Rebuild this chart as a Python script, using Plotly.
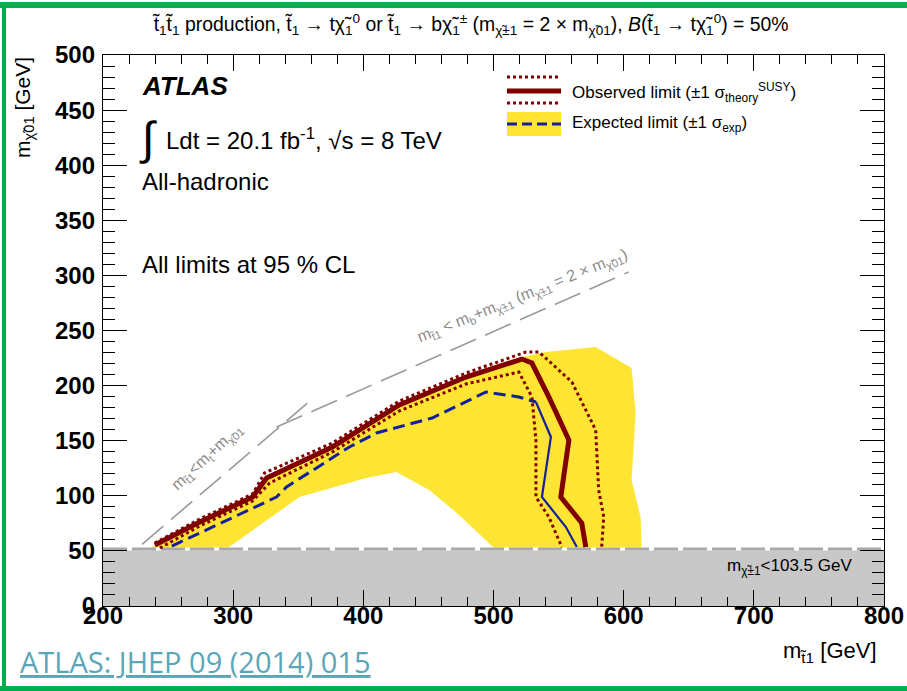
import plotly.graph_objects as go

# ---------------- data ----------------
obs_x = [239.8, 274.3, 314.9, 325.7, 376.2, 427.6, 478.9, 521.8, 529.5, 542.5, 557.9, 551.7, 567.8, 570.9]
obs_y = [55.4, 76.2, 98.9, 116.2, 144.3, 182.4, 207.8, 224.1, 220.5, 189.7, 150.6, 98.9, 75.3, 53.5]

obs_up_x = [239.8, 274.3, 314.9, 324.1, 376.2, 427.6, 478.9, 524.9, 534.9, 560.2, 578.5, 580.8, 584.7, 583.1]
obs_up_y = [57.2, 78.9, 101.6, 120.7, 147.9, 186.0, 211.4, 230.5, 230.5, 203.3, 159.7, 105.3, 80.8, 53.5]

obs_dn_x = [243.7, 274.3, 314.9, 328.0, 376.2, 427.6, 478.9, 519.5, 529.5, 532.6, 532.6, 542.5, 552.5]
obs_dn_y = [52.6, 72.6, 95.3, 111.6, 139.7, 177.0, 201.5, 212.3, 189.7, 150.6, 98.9, 80.8, 53.5]

exp_dash_x = [252.9, 274.3, 325.7, 333.3, 341.0, 389.3, 410.0, 452.9, 494.3, 519.5, 532.6]
exp_dash_y = [54.4, 66.2, 94.0, 98.9, 108.0, 144.3, 157.0, 170.6, 194.2, 189.7, 185.1]
exp_solid_x = [532.6, 544.1, 537.2, 555.6, 564.0]
exp_solid_y = [185.1, 153.4, 98.9, 71.7, 53.5]

band_x = [236.0, 274.3, 314.9, 325.7, 376.2, 427.6, 478.9, 521.8, 540.2, 578.5, 606.1, 609.2,
          606.1, 613.0, 613.8, 500.4, 473.6, 450.6, 425.3, 402.3, 351.0, 320.3, 295.8]
band_y = [52.6, 78.0, 100.7, 118.0, 146.1, 184.2, 209.6, 226.0, 230.5, 235.0, 216.0, 175.1,
          114.3, 80.8, 52.6, 52.6, 82.6, 105.3, 121.6, 116.2, 98.9, 73.5, 52.6]

# kinematic boundaries
kin_top_x = [230.0, 357.0]      # m_stop < m_t + m_LSP
kin_top_y = [56.0, 184.0]
kin_b_x = [333.3, 603.8]        # m_stop < m_b + m_chargino
kin_b_y = [162.4, 303.1]

chargino_limit = 103.5           # LEP limit on chargino mass [GeV]
lsp_limit = chargino_limit / 2   # m_chargino = 2 x m_LSP

x_range = [200, 800]
y_range = [0, 500]

# ---------------- styles ----------------
RED = "#800000"
BLUE = "#14209c"
YELLOW = "#ffe533"
GREY_FILL = "#c8c8c8"
KIN_GREY = "#9a9a9a"
FONT = "Liberation Sans"

# pixel helpers for layout placement
X0, X1 = 103, 884
Y0, Y1 = 606, 55
def px(p):
    return (p - X0) / (X1 - X0)
def py(p):
    return (Y0 - p) / (Y0 - Y1)

fig = go.Figure()

# grey excluded region
fig.add_trace(go.Scatter(x=[x_range[0], x_range[1], x_range[1], x_range[0]],
                         y=[0, 0, lsp_limit, lsp_limit], fill="toself",
                         fillcolor=GREY_FILL, line=dict(width=0), mode="lines",
                         hoverinfo="skip", showlegend=False))
# yellow band
fig.add_trace(go.Scatter(x=band_x, y=band_y, fill="toself", fillcolor=YELLOW,
                         line=dict(width=0), mode="lines", hoverinfo="skip", showlegend=False))
# dashed border of grey region (white under grey dashes)
fig.add_trace(go.Scatter(x=x_range, y=[lsp_limit, lsp_limit], mode="lines",
                         line=dict(color="white", width=3), showlegend=False, hoverinfo="skip"))
fig.add_trace(go.Scatter(x=x_range, y=[lsp_limit, lsp_limit], mode="lines",
                         line=dict(color="#a8a8a8", width=3, dash="24px,5px"),
                         showlegend=False, hoverinfo="skip"))
# kinematic lines
fig.add_trace(go.Scatter(x=kin_top_x, y=kin_top_y, mode="lines",
                         line=dict(color=KIN_GREY, width=1.6, dash="28px,10px"),
                         showlegend=False, hoverinfo="skip"))
fig.add_trace(go.Scatter(x=kin_b_x, y=kin_b_y, mode="lines",
                         line=dict(color=KIN_GREY, width=1.6, dash="28px,10px"),
                         showlegend=False, hoverinfo="skip"))
# expected
fig.add_trace(go.Scatter(x=exp_dash_x, y=exp_dash_y, mode="lines",
                         line=dict(color=BLUE, width=3, dash="12px,6px"), showlegend=False))
fig.add_trace(go.Scatter(x=exp_solid_x, y=exp_solid_y, mode="lines",
                         line=dict(color=BLUE, width=2.2), showlegend=False))
# observed
fig.add_trace(go.Scatter(x=obs_up_x, y=obs_up_y, mode="lines",
                         line=dict(color=RED, width=3, dash="3px,3px"), showlegend=False))
fig.add_trace(go.Scatter(x=obs_dn_x, y=obs_dn_y, mode="lines",
                         line=dict(color=RED, width=3, dash="3px,3px"), showlegend=False))
fig.add_trace(go.Scatter(x=obs_x, y=obs_y, mode="lines",
                         line=dict(color=RED, width=5), showlegend=False))
# invisible trace to carry the mirrored (top/right) tick axes
fig.add_trace(go.Scatter(x=[x_range[0]], y=[y_range[0]], xaxis="x2", yaxis="y2",
                         mode="markers", marker=dict(opacity=0), hoverinfo="skip",
                         showlegend=False))

ann = []
def text(xp, yp, s, size, xanchor="left", color="black", angle=0, family=FONT, yanchor="middle"):
    ann.append(dict(x=px(xp), y=py(yp), xref="paper", yref="paper", text=s, showarrow=False,
                    xanchor=xanchor, yanchor=yanchor, textangle=angle,
                    font=dict(family=family, size=size, color=color)))

# title
text(470, 24, "t̃<sub>1</sub>t̃<sub>1</sub> production, t̃<sub>1</sub> → tχ̃<sub>1</sub><sup>0</sup> or "
     "t̃<sub>1</sub> → bχ̃<sub>1</sub><sup>±</sup> (m<sub>χ̃±1</sub> = 2 × m<sub>χ̃01</sub>), "
     "<i>B</i>(t̃<sub>1</sub> → tχ̃<sub>1</sub><sup>0</sup>) = 50%", 19.4, xanchor="center")
# ATLAS labels
text(140, 86, "<b><i>ATLAS</i></b>", 26)
text(137, 138, "∫", 46)
text(164, 139, "Ldt = 20.1 fb<sup>-1</sup>, √s = 8 TeV", 24)
text(140, 181, "All-hadronic", 24)
text(140, 264, "All limits at 95 % CL", 24)
# legend text
text(570, 92, "Observed limit (±1 σ<sub>theory</sub><sup>SUSY</sup>)", 17)
text(570, 124, "Expected limit (±1 σ<sub>exp</sub>)", 17)
# kinematic labels
text(207, 458, "m<sub>t̃1</sub><m<sub>t</sub>+m<sub>χ̃01</sub>", 16, xanchor="center", color="#8c8c8c", angle=-43)
text(522, 296, "m<sub>t̃1</sub> < m<sub>b</sub>+m<sub>χ̃±1</sub> (m<sub>χ̃±1</sub> = 2 × m<sub>χ̃01</sub>)",
     16, xanchor="center", color="#8c8c8c", angle=-22)
# grey region label
text(725, 567, "m<sub>χ̃±1</sub><103.5 GeV", 17)
# axis titles
text(879, 652, "m<sub>t̃1</sub> [GeV]", 22, xanchor="right")
ann.append(dict(x=px(24), y=py(108), xref="paper", yref="paper",
                text="m<sub>χ̃01</sub> [GeV]", showarrow=False, textangle=-90,
                xanchor="center", yanchor="middle", font=dict(family=FONT, size=21, color="black")))
# reference link
text(18, 661, "<u>ATLAS: JHEP 09 (2014) 015</u>", 29, color="#5aa6b8", family="Open Sans")

shapes = []
def hline(x0, x1, y, color, width, dash="solid"):
    shapes.append(dict(type="line", xref="paper", yref="paper", x0=px(x0), x1=px(x1),
                       y0=py(y), y1=py(y), line=dict(color=color, width=width, dash=dash)))
# legend graphics
shapes.append(dict(type="rect", xref="paper", yref="paper", x0=px(507), x1=px(561),
                   y0=py(136), y1=py(112), fillcolor=YELLOW, line=dict(width=0)))
hline(507, 561, 77, RED, 3, "3px,3px")
hline(507, 561, 91, RED, 5)
hline(507, 561, 103, RED, 3, "3px,3px")
hline(507, 561, 124, BLUE, 3, "10px,5px")

# green slide frame
GREEN = "#00b050"
hline(0, 907, 5, GREEN, 6)
hline(0, 907, 688.5, GREEN, 5)
shapes.append(dict(type="line", xref="paper", yref="paper", x0=px(4), x1=px(4),
                   y0=py(691), y1=py(2), line=dict(color=GREEN, width=4)))

tickfont = dict(family=FONT, size=24, color="black", weight="bold")
base = dict(showgrid=False, zeroline=False, showline=True, linecolor="black",
            linewidth=1.3, ticks="inside", tickcolor="black", tickwidth=1.3, automargin=False)

fig.update_layout(
    width=907, height=691,
    margin=dict(l=X0, r=907 - X1, t=Y1, b=691 - Y0, autoexpand=False),
    paper_bgcolor="white", plot_bgcolor="white",
    showlegend=False,
    xaxis=dict(range=x_range, dtick=100, ticklen=16, mirror=True, tickfont=tickfont,
               ticklabelstandoff=-12,
               minor=dict(dtick=20, ticks="inside", ticklen=9, tickcolor="black", tickwidth=1.3),
               **base),
    yaxis=dict(range=y_range, dtick=50, ticklen=24, mirror=True, tickfont=tickfont,
               ticklabelstandoff=2,
               minor=dict(dtick=10, ticks="inside", ticklen=12, tickcolor="black", tickwidth=1.3),
               **base),
    xaxis2=dict(range=x_range, dtick=100, ticklen=16, overlaying="x", side="top", anchor="y2",
                showticklabels=False,
                minor=dict(dtick=20, ticks="inside", ticklen=9, tickcolor="black", tickwidth=1.3),
                **base),
    yaxis2=dict(range=y_range, dtick=50, ticklen=24, overlaying="y", side="right", anchor="x2",
                showticklabels=False,
                minor=dict(dtick=10, ticks="inside", ticklen=12, tickcolor="black", tickwidth=1.3),
                **base),
    annotations=ann, shapes=shapes,
)

fig.write_html("out.html", config={"displayModeBar": False},
               post_script="document.body.style.margin='0';document.body.style.overflow='hidden';")
